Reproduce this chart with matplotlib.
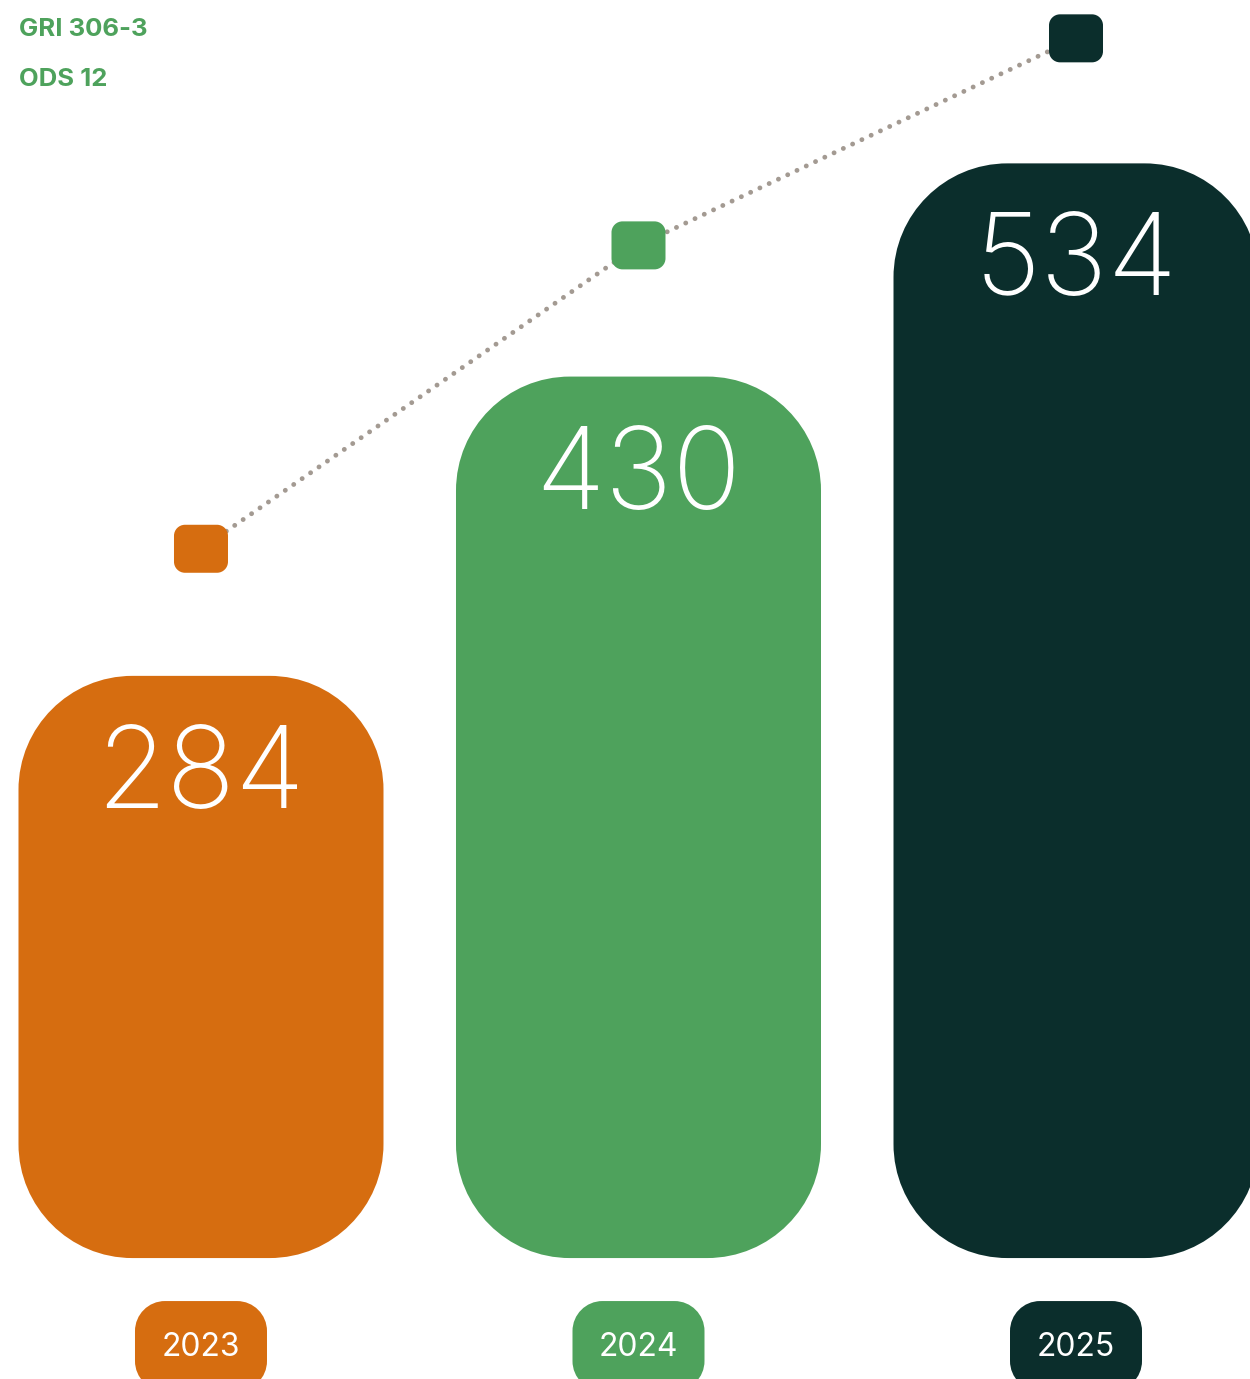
import matplotlib
matplotlib.use('Agg')
from matplotlib import pyplot as plt
from matplotlib.path import Path
from matplotlib.patches import PathPatch

years = ['2023', '2024', '2025']
values = [284, 430, 534]
trend = [346, 494, 595]   # rounded markers above the bars
colors = ['#D66D10', '#4EA25C', '#0B2E2C']
tags = ['GRI 306-3', 'ODS 12']

W, H = 1250, 1379
fig = plt.figure(figsize=(W / 100, H / 100), dpi=100)
ax = fig.add_axes([0, 0, 1, 1])
ax.set_xlim(-0.4594, 2.3977)
ax.set_ylim(-59.0, 613.7)
ax.axis('off')

# pixels per data unit, so corners come out as real circles
sx = W / (ax.get_xlim()[1] - ax.get_xlim()[0])
sy = H / (ax.get_ylim()[1] - ax.get_ylim()[0])
K = 0.5523


def rbox(xc, y0, w_px, h_px, r_px, color, z):
    w = w_px / sx
    h = h_px / sy
    rx = r_px / sx
    ry = r_px / sy
    x0, x1 = xc - w / 2, xc + w / 2
    y1 = y0 + h
    verts = [
        (x0 + rx, y0), (x1 - rx, y0),
        (x1 - rx + K * rx, y0), (x1, y0 + ry - K * ry), (x1, y0 + ry),
        (x1, y1 - ry),
        (x1, y1 - ry + K * ry), (x1 - rx + K * rx, y1), (x1 - rx, y1),
        (x0 + rx, y1),
        (x0 + rx - K * rx, y1), (x0, y1 - ry + K * ry), (x0, y1 - ry),
        (x0, y0 + ry),
        (x0, y0 + ry - K * ry), (x0 + rx - K * rx, y0), (x0 + rx, y0),
        (x0 + rx, y0),
    ]
    codes = ([Path.MOVETO, Path.LINETO] + [Path.CURVE4] * 3 + [Path.LINETO]
             + [Path.CURVE4] * 3 + [Path.LINETO] + [Path.CURVE4] * 3
             + [Path.LINETO] + [Path.CURVE4] * 3 + [Path.CLOSEPOLY])
    ax.add_patch(PathPatch(Path(verts, codes), fc=color, ec='none', zorder=z))


for i, v in enumerate(values):
    # bar
    rbox(i, 0, 365, v * sy, 114, colors[i], 2)
    ax.text(i, v - 132 / sy, str(v), ha='center', va='baseline', color='white',
            fontsize=82, family='Inter', fontweight='light', zorder=5)
    # year pill
    rbox(i, -(1301 - 1258) / sy - 90 / sy, 132, 90, 30, colors[i], 2)
    ax.text(i, -(1347 - 1258) / sy, years[i], ha='center', va='center',
            color='white', fontsize=23, family='Inter', zorder=5)

# dotted trend line + markers
ax.plot(range(len(trend)), trend, ls=(0, (0.01, 2.1)), lw=3.5, color='#A39A92',
        dash_capstyle='round', zorder=1)
for i, t in enumerate(trend):
    rbox(i, t - 24 / sy, 54, 48, 11, colors[i], 3)

for k, s in enumerate(tags):
    fig.text(19 / W, 1 - (29 + 50 * k) / H, s, ha='left', va='center',
             color='#4EA25C', fontsize=18.5, fontweight='bold', family='Inter')

fig.savefig('out.png', dpi=100)
